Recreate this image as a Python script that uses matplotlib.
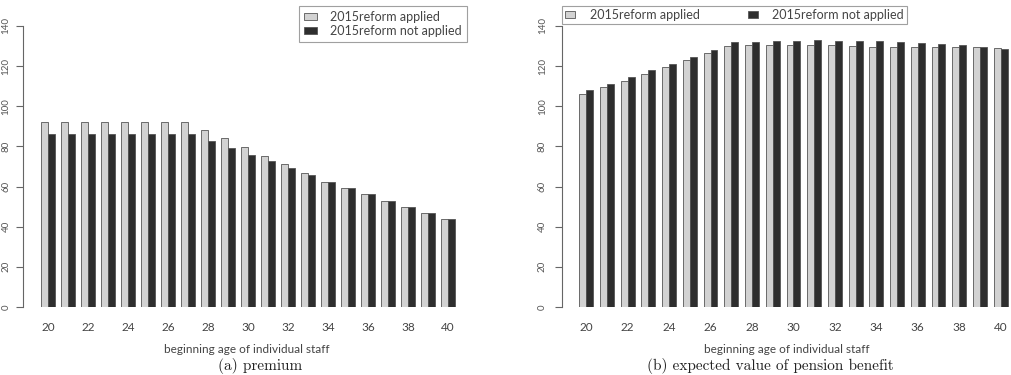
import numpy as np
import matplotlib
matplotlib.use("Agg")
import matplotlib.pyplot as plt

ages = list(range(20, 41))
tick_ages = list(range(20, 41, 2))
yticks = [0, 20, 40, 60, 80, 100, 120, 140]

premium_applied = [92.4, 92.4, 92.4, 92.4, 92.4, 92.4, 92.4, 92.4, 88.3, 84.0, 79.6,
                   75.3, 71.2, 66.8, 62.5, 59.4, 56.2, 53.0, 49.9, 46.7, 43.6]
premium_not = [86.0, 86.0, 86.0, 86.0, 86.0, 86.0, 86.0, 86.0, 82.6, 79.1, 75.8,
               72.5, 69.2, 66.0, 62.5, 59.4, 56.2, 53.0, 49.9, 46.7, 43.6]

benefit_applied = [106.3, 109.4, 112.7, 115.9, 119.4, 122.9, 126.4, 129.9, 130.4, 130.4, 130.4,
                   130.4, 130.4, 130.0, 129.7, 129.7, 129.7, 129.7, 129.5, 129.4, 128.9]
benefit_not = [108.1, 111.2, 114.6, 117.9, 121.2, 124.6, 128.2, 132.0, 132.2, 132.7, 132.5,
               133.0, 132.5, 132.5, 132.4, 132.0, 131.7, 131.2, 130.4, 129.5, 128.5]

labels = ["2015reform applied", "2015reform not applied"]
LIGHT, DARK, EDGE = "#d2d2d2", "#2e2e2e", "#555555"
SANS = ["Lato", "DejaVu Sans"]

W, H = 1011, 375
fig = plt.figure(figsize=(W / 100, H / 100), dpi=100)


def px_axes(x0, x1, ytop, ybot):
    return fig.add_axes([x0 / W, 1 - ybot / H, (x1 - x0) / W, (ybot - ytop) / H])


def panel(ax, applied, notapp, xlim, ylabpad):
    x = np.arange(len(ages))
    bw = 1 / 3
    b1 = ax.bar(x - bw / 2, applied, bw, color=LIGHT, edgecolor=EDGE, lw=0.6)
    b2 = ax.bar(x + bw / 2, notapp, bw, color=DARK, edgecolor=EDGE, lw=0.6)
    ax.set_xlim(*xlim)
    ax.set_ylim(0, 140)
    for s in ["top", "right", "bottom"]:
        ax.spines[s].set_visible(False)
    ax.spines["left"].set_bounds(0, 140)
    ax.spines["left"].set_color("#666666")
    ax.spines["left"].set_linewidth(0.8)
    ax.set_yticks(yticks)
    ax.set_yticklabels([str(v) for v in yticks], rotation=90, va="center",
                       fontsize=7, color="#555555", family=SANS)
    ax.tick_params(axis="y", length=5, width=0.8, color="#666666", pad=ylabpad)
    ax.set_xticks([ages.index(a) for a in tick_ages])
    ax.set_xticklabels([str(a) for a in tick_ages], fontsize=8.5, color="#444444", family=SANS)
    ax.tick_params(axis="x", length=0, pad=11)
    ax.set_xlabel("beginning age of individual staff", fontsize=8.5, color="#444444",
                  family=SANS, labelpad=8)
    ax.patch.set_alpha(0)
    return b1, b2


def style_legend(leg):
    leg.get_frame().set_edgecolor("#888888")
    leg.get_frame().set_linewidth(0.8)
    for t in leg.get_texts():
        t.set_color("#444444")


# left: premium
ax1 = px_axes(23, 470, 26, 307)
h1 = panel(ax1, premium_applied, premium_not, (-1.25, 21.1), 4)
leg1 = fig.legend(h1, labels, loc="upper left", bbox_to_anchor=(299 / W, 1 - 6 / H),
                  ncol=1, frameon=True, fancybox=False, borderpad=0.4, borderaxespad=0,
                  handlelength=1.0, handleheight=0.5, handletextpad=1.1, labelspacing=0.15,
                  prop={"family": SANS, "size": 9})
style_legend(leg1)

# right: expected value of pension benefit
ax2 = px_axes(562, 1011, 26, 307)
h2 = panel(ax2, benefit_applied, benefit_not, (-1.17, 20.5), 6)
leg2 = fig.legend(h2, labels, loc="upper left", bbox_to_anchor=(562 / W, 1 - 6 / H),
                  ncol=2, frameon=True, fancybox=False, borderpad=0.25, borderaxespad=0,
                  columnspacing=3.8, handlelength=0.8, handleheight=0.5, handletextpad=1.2,
                  prop={"family": SANS, "size": 9})
style_legend(leg2)

# captions at the bottom edge
fig.text(260 / W, 1 - 358 / H, "(a) premium", ha="center", va="top",
         fontsize=11, family="cmr10", color="#222222")
fig.text(770 / W, 1 - 358 / H, "(b) expected value of pension benefit", ha="center", va="top",
         fontsize=11, family="cmr10", color="#222222")

fig.savefig("out.png", dpi=100)
